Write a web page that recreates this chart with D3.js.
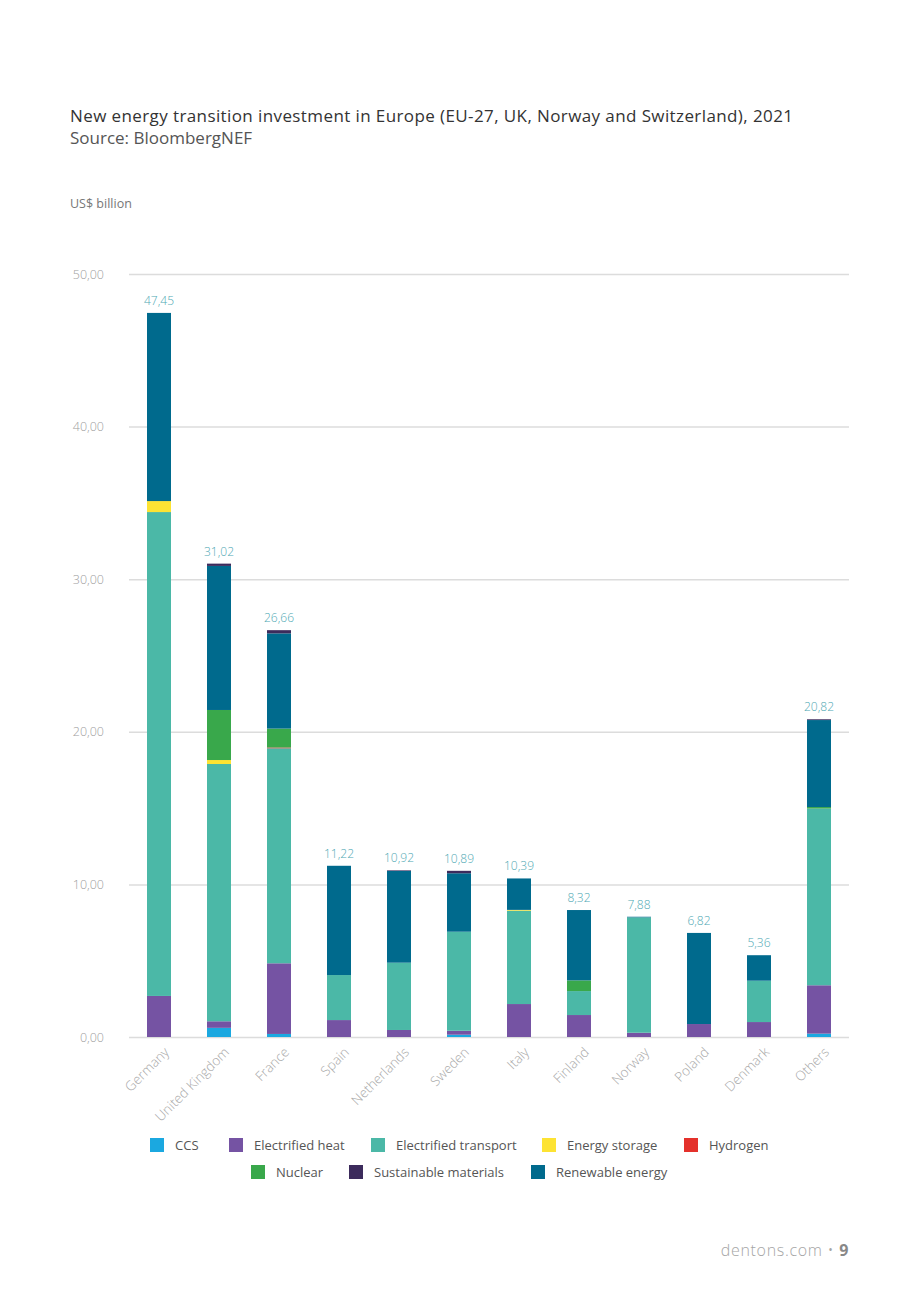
<!DOCTYPE html>
<html lang="en">
<head>
<meta charset="UTF-8">
<title>New energy transition investment in Europe, 2021</title>
<script src="https://cdn.jsdelivr.net/npm/d3@7"></script>
<style>
  body { margin: 0; background: #fff; }
  svg text { font-family: "Open Sans", Roboto, sans-serif; }
</style>
</head>
<body>
<div id="chart"></div>
<script>
// categories and series (US$ billion)
const categories = ["Germany", "United Kingdom", "France", "Spain", "Netherlands", "Sweden",
  "Italy", "Finland", "Norway", "Poland", "Denmark", "Others"];
const ccs                  = [0,     0.60,  0.20,  0,    0,    0.15, 0,    0,    0,    0,    0,    0.22];
const electrifiedHeat      = [2.69,  0.43,  4.63,  1.11, 0.46, 0.26, 2.16, 1.44, 0.28, 0.85, 0.98, 3.17];
const electrifiedTransport = [31.71, 16.86, 14.09, 2.95, 4.41, 6.49, 6.12, 1.57, 7.56, 0,    2.71, 11.58];
const energyStorage        = [0.72,  0.26,  0,     0,    0,    0,    0.05, 0,    0,    0,    0,    0];
const hydrogen             = [0,     0,     0.05,  0,    0,    0,    0,    0,    0,    0,    0,    0];
const nuclear              = [0,     3.28,  1.24,  0,    0,    0,    0,    0.70, 0,    0,    0,    0.10];
const renewableEnergy      = [12.33, 9.44,  6.24,  7.16, 6.01, 3.83, 2.06, 4.61, 0.04, 5.97, 1.67, 5.70];
const sustainableMaterials = [0,     0.15,  0.21,  0,    0.04, 0.16, 0,    0,    0,    0,    0,    0.05];
const yTicks = [0, 10, 20, 30, 40, 50];

const series = [
  { key: "CCS", values: ccs, color: "#1ba8e0" },
  { key: "Electrified heat", values: electrifiedHeat, color: "#7553a3" },
  { key: "Electrified transport", values: electrifiedTransport, color: "#4bb8a7" },
  { key: "Energy storage", values: energyStorage, color: "#fde333" },
  { key: "Hydrogen", values: hydrogen, color: "#e4312b" },
  { key: "Nuclear", values: nuclear, color: "#39a84b" },
  { key: "Sustainable materials", values: sustainableMaterials, color: "#3c2b5c" },
  { key: "Renewable energy", values: renewableEnergy, color: "#006a8d" }
];
// stacking order inside the bars: materials sit on top of renewables
const stackOrder = ["CCS", "Electrified heat", "Electrified transport", "Energy storage",
  "Hydrogen", "Nuclear", "Renewable energy", "Sustainable materials"];

const width = 920, height = 1306;
const margin = { left: 129, right: 71, top: 274, bottom: 269 };

const rows = categories.map((c, i) => {
  const r = { name: c };
  series.forEach(s => r[s.key] = s.values[i]);
  return r;
});
const colorOf = Object.fromEntries(series.map(s => [s.key, s.color]));

const locale = d3.formatLocale({ decimal: ",", thousands: ".", grouping: [3] });
const fmt = locale.format(".2f");

const svg = d3.select("#chart").append("svg")
  .attr("width", width)
  .attr("height", height);

const x = d3.scaleBand()
  .domain(categories)
  .range([margin.left, width - margin.right])
  .paddingInner(0.6)
  .paddingOuter(0.3);

const y = d3.scaleLinear()
  .domain([0, 50])
  .range([height - margin.bottom, margin.top]);

// title
svg.append("text")
  .attr("x", 70).attr("y", 122)
  .attr("font-size", 17).attr("fill", "#333")
  .attr("textLength", 723).attr("lengthAdjust", "spacing")
  .text("New energy transition investment in Europe (EU-27, UK, Norway and Switzerland), 2021");
svg.append("text")
  .attr("x", 70).attr("y", 144)
  .attr("font-size", 17).attr("fill", "#555")
  .text("Source: BloombergNEF");
svg.append("text")
  .attr("x", 70).attr("y", 208)
  .attr("font-size", 12.5).attr("fill", "#777")
  .text("US$ billion");

// gridlines + y axis labels
const yAxis = d3.axisLeft(y)
  .tickValues(yTicks)
  .tickSize(-(width - margin.right - margin.left))
  .tickPadding(25)
  .tickFormat(fmt);
svg.append("g")
  .attr("transform", `translate(${margin.left},0)`)
  .call(yAxis)
  .call(g => g.select(".domain").remove())
  .call(g => g.selectAll(".tick line").attr("stroke", "#dcdcdc").attr("stroke-width", 1.5))
  .call(g => g.selectAll(".tick text")
    .attr("fill", "#a0a0a0").attr("font-size", 12.5)
    .attr("font-family", "Inter, Roboto, sans-serif").attr("font-weight", 300));

// stacked bars
const stacked = d3.stack().keys(stackOrder)(rows);
svg.append("g").selectAll("g")
  .data(stacked)
  .join("g")
  .attr("fill", d => colorOf[d.key])
  .selectAll("rect")
  .data(d => d)
  .join("rect")
  .attr("x", d => x(d.data.name))
  .attr("y", d => y(d[1]))
  .attr("width", x.bandwidth())
  .attr("height", d => Math.max(0, y(d[0]) - y(d[1])));

// totals
svg.append("g").selectAll("text")
  .data(rows)
  .join("text")
  .attr("x", d => x(d.name) + x.bandwidth() / 2)
  .attr("y", d => y(d3.sum(stackOrder, k => d[k])) - 8)
  .attr("text-anchor", "middle")
  .attr("font-size", 12)
  .attr("font-family", "Inter, Roboto, sans-serif")
  .attr("font-weight", 300)
  .attr("fill", "#4fa9b4")
  .text(d => fmt(d3.sum(stackOrder, k => d[k])));

// x axis labels
const xAxis = d3.axisBottom(x).tickSize(0).tickPadding(0);
svg.append("g")
  .attr("transform", `translate(0,${height - margin.bottom})`)
  .call(xAxis)
  .call(g => g.select(".domain").remove())
  .call(g => g.selectAll(".tick text")
    .attr("fill", "#a8a8a8").attr("font-size", 13.5)
    .attr("font-family", "Inter, Roboto, sans-serif").attr("font-weight", 300)
    .attr("text-anchor", "end")
    .attr("dy", null).attr("y", null)
    .attr("transform", "translate(11,16) rotate(-45)"));

// legend
const legendRows = [
  [{ k: "CCS", x: 150 }, { k: "Electrified heat", x: 229 }, { k: "Electrified transport", x: 371 },
   { k: "Energy storage", x: 542 }, { k: "Hydrogen", x: 684 }],
  [{ k: "Nuclear", x: 251 }, { k: "Sustainable materials", x: 349 }, { k: "Renewable energy", x: 531 }]
];
const legend = svg.append("g");
legendRows.forEach((row, ri) => {
  const ly = 1138 + ri * 27;
  row.forEach(item => {
    legend.append("rect")
      .attr("x", item.x).attr("y", ly)
      .attr("width", 14).attr("height", 14)
      .attr("fill", colorOf[item.k]);
    legend.append("text")
      .attr("x", item.x + 25).attr("y", ly + 12)
      .attr("font-size", 13).attr("fill", "#555")
      .text(item.k);
  });
});

// footer
const footer = svg.append("text")
  .attr("x", 849).attr("y", 1256)
  .attr("text-anchor", "end")
  .attr("font-size", 16).attr("fill", "#a5a5a5")
  .attr("letter-spacing", 0.7)
  .attr("font-family", "Inter, Roboto, sans-serif").attr("font-weight", 300);
footer.append("tspan").text("dentons.com  \u2022  ");
footer.append("tspan").attr("font-weight", "bold").attr("fill", "#888").text("9");
</script>
</body>
</html>
